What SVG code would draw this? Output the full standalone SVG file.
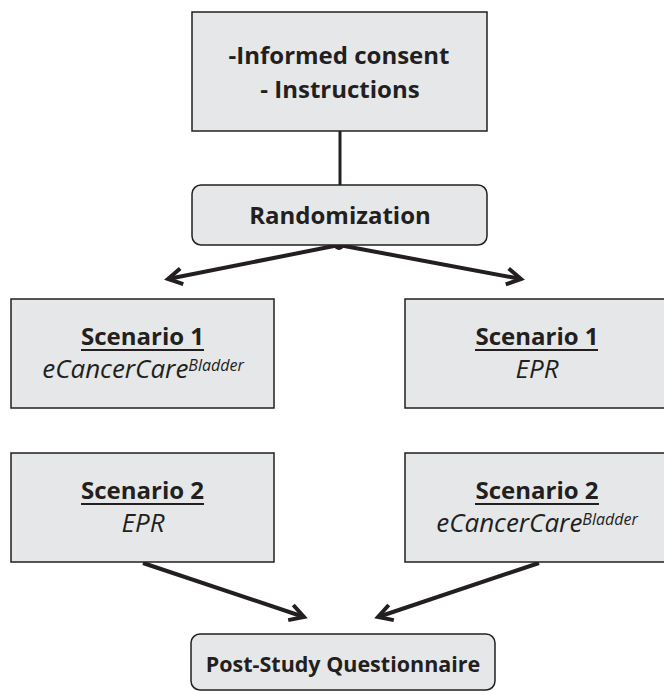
<svg xmlns="http://www.w3.org/2000/svg" width="664" height="691" viewBox="0 0 664 691">
<defs>
<style>
.box{fill:#e6e7e8;stroke:#231f20;stroke-width:1.5}
.t{font-family:"Open Sans","Liberation Sans",sans-serif;fill:#231f20;text-anchor:middle}
.b{font-weight:bold;font-size:24px}
.i{font-style:italic;font-size:26px}
.sup{font-size:16px}
.u{stroke:#231f20;stroke-width:2}
.conn{stroke:#231f20;stroke-width:4;fill:none}
</style>
<marker id="ah" viewBox="-18 -12 22 24" refX="0" refY="0" markerWidth="22" markerHeight="24" markerUnits="userSpaceOnUse" orient="auto">
<path d="M-14,-8 L0,0 L-14,8" fill="none" stroke="#231f20" stroke-width="4" stroke-linejoin="miter"/>
</marker>
</defs>
<g id="connectors">
<line class="conn" x1="340" y1="131" x2="340" y2="185" style="stroke-width:3"/>
<line class="conn" x1="339" y1="245" x2="168" y2="279" marker-end="url(#ah)"/>
<line class="conn" x1="339" y1="245" x2="521" y2="279" marker-end="url(#ah)"/>
<line class="conn" x1="143" y1="563" x2="304" y2="617" marker-end="url(#ah)"/>
<line class="conn" x1="539" y1="563" x2="378" y2="617" marker-end="url(#ah)"/>
<circle cx="339" cy="245" r="5" fill="#231f20"/>
</g>
<g id="consent">
<rect class="box" x="192" y="12" width="295" height="119"/>
<text class="t b" x="339" y="64">-Informed consent</text>
<text class="t b" x="340" y="98">- Instructions</text>
</g>
<g id="randomization">
<rect class="box" x="192" y="185" width="295" height="60" rx="9"/>
<text class="t b" x="340" y="224">Randomization</text>
</g>
<g id="s1-left">
<rect class="box" x="11" y="299" width="263" height="109"/>
<text class="t b" x="142.5" y="345">Scenario 1</text>
<line class="u" x1="81" y1="350" x2="204" y2="350"/>
<text class="t i" x="143" y="378">eCancerCare<tspan class="sup" dy="-7">Bladder</tspan></text>
</g>
<g id="s1-right">
<rect class="box" x="405" y="299" width="263" height="109"/>
<text class="t b" x="537" y="345">Scenario 1</text>
<line class="u" x1="475" y1="350" x2="598" y2="350"/>
<text class="t i" x="537" y="378">EPR</text>
</g>
<g id="s2-left">
<rect class="box" x="11" y="453" width="263" height="109"/>
<text class="t b" x="142.5" y="499">Scenario 2</text>
<line class="u" x1="81" y1="504" x2="204" y2="504"/>
<text class="t i" x="143" y="532">EPR</text>
</g>
<g id="s2-right">
<rect class="box" x="405" y="453" width="263" height="109"/>
<text class="t b" x="537" y="499">Scenario 2</text>
<line class="u" x1="475" y1="504" x2="599" y2="504"/>
<text class="t i" x="537" y="532">eCancerCare<tspan class="sup" dy="-7">Bladder</tspan></text>
</g>
<g id="questionnaire">
<rect class="box" x="191" y="634" width="304" height="56" rx="9"/>
<text class="t b" x="343" y="672" style="font-size:21.5px">Post-Study Questionnaire</text>
</g>
</svg>
